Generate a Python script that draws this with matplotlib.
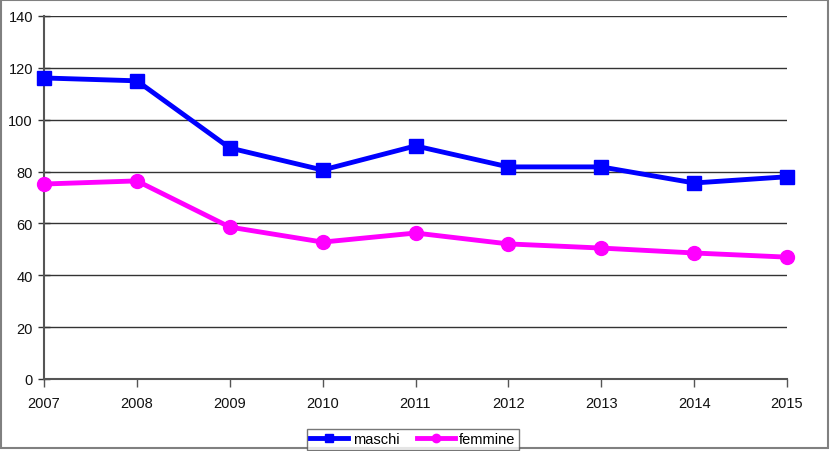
import matplotlib
matplotlib.use("Agg")
import matplotlib.pyplot as plt
from matplotlib.patches import Rectangle

years = ["2007", "2008", "2009", "2010", "2011", "2012", "2013", "2014", "2015"]
maschi = [116.1, 115.0, 89.1, 80.6, 89.9, 81.8, 81.8, 75.6, 78.0]
femmine = [75.2, 76.4, 58.6, 52.8, 56.3, 52.1, 50.5, 48.6, 47.0]

plt.rcParams['font.family'] = ['Liberation Sans', 'DejaVu Sans']

W, H = 831, 452
fig = plt.figure(figsize=(W / 100, H / 100), dpi=100)
fig.patches.append(Rectangle((1 / W, 3 / H), (W - 4) / W, (H - 4) / H, transform=fig.transFigure,
                             fill=False, edgecolor='#808080', linewidth=1.5))
ax = fig.add_axes([44 / W, (H - 380) / H, (787 - 44) / W, (380 - 17) / H])

x = list(range(len(years)))
ax.plot(x, maschi, color='#0000ff', lw=3.5, marker='s', ms=10, label='maschi', clip_on=False, zorder=3)
ax.plot(x, femmine, color='#ff00ff', lw=3.5, marker='o', ms=10, label='femmine', clip_on=False, zorder=3)

ax.set_xlim(0, len(years) - 1)
ax.set_ylim(0, 140)
ax.set_yticks(range(0, 141, 20))
ax.set_xticks(x)
ax.set_xticklabels(years)
ax.yaxis.grid(True, color='#333333', lw=1)
ax.set_axisbelow(True)
for s in ['top', 'right']:
    ax.spines[s].set_visible(False)
for s in ['left', 'bottom']:
    ax.spines[s].set_color('#555555')
    ax.spines[s].set_linewidth(1.5)
ax.tick_params(axis='y', direction='inout', length=8, width=1, color='#333333', labelsize=10.5, pad=4, labelcolor='#111111')
ax.tick_params(axis='x', direction='out', length=6, width=1, color='#555555', labelsize=10.5, pad=6, labelcolor='#111111')

leg = fig.legend(loc='lower center', bbox_to_anchor=(413 / W, 1 / H), ncol=2, frameon=True,
                 fontsize=10.5, handlelength=2.6, handletextpad=0.3, columnspacing=1.2, borderpad=0.25,
                 borderaxespad=0, fancybox=False, edgecolor='#555555', markerscale=0.6)
leg.get_frame().set_linewidth(1)

fig.savefig('out.png', dpi=100)
